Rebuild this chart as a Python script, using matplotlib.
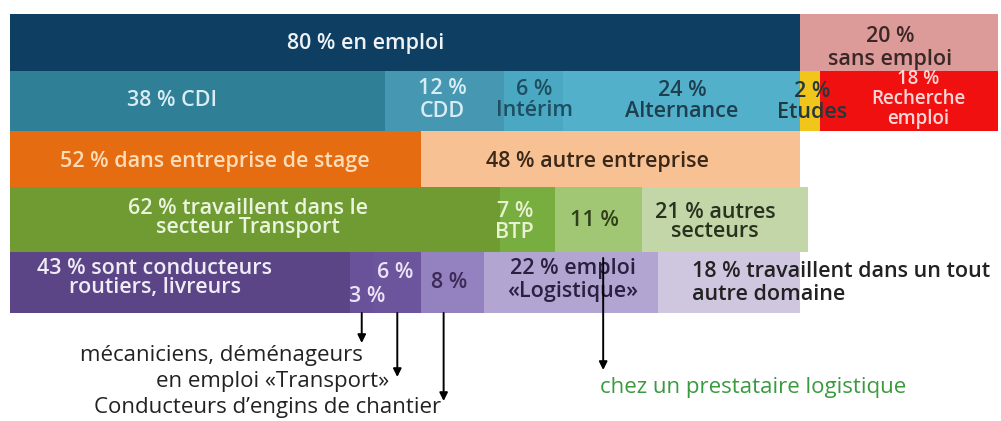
import matplotlib
matplotlib.use('Agg')
import matplotlib.pyplot as plt

plt.rcParams['font.family'] = ['Open Sans', 'DejaVu Sans']

# ---------------- data ----------------
row1_values = [80, 20]
row1_labels = ['80 % en emploi', '20 %\nsans emploi']
row2_values = [38, 12, 6, 24, 2, 18]
row2_labels = ['38 % CDI', '12 %\nCDD', '6 %\nIntérim', '24 %\nAlternance',
               '2 %\nEtudes', '18 %\nRecherche\nemploi']
row3_values = [52, 48]
row3_labels = ['52 % dans entreprise de stage', '48 % autre entreprise']
row4_values = [62, 7, 11, 21]
row4_labels = ['62 % travaillent dans le\nsecteur Transport', '7 %\nBTP', '11 %',
               '21 % autres\nsecteurs']
row5_values = [43, 3, 6, 8, 22, 18]
row5_labels = ['43 % sont conducteurs\nroutiers, livreurs', '3 %', '6 %', '8 %',
               '22 % emploi\n«Logistique»', '18 % travaillent dans un tout\nautre domaine']
callout_texts = ['mécaniciens, déménageurs', 'en emploi «Transport»',
                 'Conducteurs d’engins de chantier', 'chez un prestataire logistique']
callout_segments = [1, 2, 3, 4]   # row-5 segment each arrow points from

# ---------------- style / layout ----------------
row1_colors = ['#0e3f63', '#dc9a98']
row2_colors = ['#2f7f97', '#4698b2', '#4aa8c2', '#52b0ca', '#f2c51a', '#f01010']
row3_colors = ['#e56c10', '#f8c194']
row4_colors = ['#6f9b32', '#78ad3f', '#a2c774', '#c2d6a8']
row5_colors = ['#5b4587', '#6a529a', '#6d559e', '#9482c0', '#b3a5d2', '#cfc6e0']

row1_tc = ['#eef2f5', '#3a2828']
row2_tc = ['#d8edf3', '#d8edf3', '#1d4f60', '#1d3f4f', '#23383c', '#ffd6d6']
row3_tc = ['#ffdcb8', '#3a2818']
row4_tc = ['#eaf4dc', '#e6f2d2', '#2f3f1a', '#28321f']
row5_tc = ['#f0ecf6', '#ece4f6', '#ece4f6', '#3a2a55', '#2a2040', '#222222']

# label x offsets (px) from segment centre and y (px)
row1_pos = [(-40, 43), (-9, 48)]
row2_pos = [(-26, 101), (-2, 100), (1, 100), (0, 101), (2, 102), (9, 99)]
row3_pos = [(-1, 161), (-13, 161)]
row4_pos = [(-7, 218), (-13, 222), (-4, 220), (-10, 222)]
row5_pos = [(-25, 278), (5, 297), (-2, 272), (-3, 283), (2, 280), (-37, 283)]
row5_ha = ['center'] * 5 + ['left']

row1_ls = [1.0, 1.12]
row2_ls = [1.0, 1.12, 1.0, 1.05, 1.05, 0.98]
row3_ls = [1.0, 1.0]
row4_ls = [0.92, 0.95, 1.0, 0.92]
row5_ls = [0.92, 1.0, 1.0, 1.0, 1.08, 1.12]

row_top = [14, 71, 131, 187, 252]
row_bot = [71, 131, 187, 252, 313]

FS = 15.5
FS_CALLOUT = 16.0
PX0, PXW = 10, 988    # left edge px, px per 100 %
W, H = 1001, 421

fig = plt.figure(figsize=(W / 100, H / 100), dpi=100)
ax = fig.add_axes([0, 0, 1, 1])
ax.set_xlim(-PX0 / PXW * 100, (W - PX0) / PXW * 100)
ax.set_ylim(H, 0)
ax.axis('off')

def px(dx):
    return dx / PXW * 100

emp_scale = row1_values[0] / 100.0
rows = [
    (row1_values, row1_labels, row1_colors, row1_tc, row1_pos, 1.0, ['center'] * 2, row1_ls),
    (row2_values, row2_labels, row2_colors, row2_tc, row2_pos, 1.0, ['center'] * 6, row2_ls),
    (row3_values, row3_labels, row3_colors, row3_tc, row3_pos, emp_scale, ['center'] * 2, row3_ls),
    (row4_values, row4_labels, row4_colors, row4_tc, row4_pos, emp_scale, ['center'] * 4, row4_ls),
    (row5_values, row5_labels, row5_colors, row5_tc, row5_pos, emp_scale, row5_ha, row5_ls),
]

seg_centers = []
for i, (vals, labs, cols, tcs, poss, sc, has, lss) in enumerate(rows):
    y = (row_top[i] + row_bot[i]) / 2
    h = row_bot[i] - row_top[i]
    widths = [v * sc for v in vals]
    lefts = [sum(widths[:k]) for k in range(len(widths))]
    ax.barh(y, widths, left=lefts, height=h, color=cols, edgecolor='none')
    centers = []
    for k, (l, w) in enumerate(zip(lefts, widths)):
        c = l + w / 2
        centers.append(c)
        dx, ty = poss[k]
        tx = c + px(dx)
        size = FS
        if labs[k].count('\n') == 2:
            size = 13.5
        ax.text(tx, ty, labs[k], ha=has[k], va='center', color=tcs[k],
                fontsize=size, linespacing=lss[k], multialignment=has[k],
                fontweight='semibold')
    seg_centers.append(centers)

# arrows and call-out text
arrow_dx = [0, 0, -9, 32]
arrow_start = [313, 313, 313, 258]
arrow_tip = [343, 377, 401, 370]
for s, dx, y0, y1 in zip(callout_segments, arrow_dx, arrow_start, arrow_tip):
    x = seg_centers[4][s] + px(dx)
    ax.annotate('', xy=(x, y1), xytext=(x, y0),
                arrowprops=dict(arrowstyle='-|>', color='black', lw=1.4,
                                mutation_scale=12, shrinkA=0, shrinkB=0))

callout_pos = [(221, 355), (273, 382), (268, 408), (753, 387)]
callout_col = ['#222222', '#222222', '#222222', '#3a9a3e']
for t, (cx, cy), c in zip(callout_texts, callout_pos, callout_col):
    ax.text((cx - PX0) / PXW * 100, cy, t, ha='center', va='center',
            color=c, fontsize=FS_CALLOUT)

fig.savefig('out.png', dpi=100, facecolor='white')
